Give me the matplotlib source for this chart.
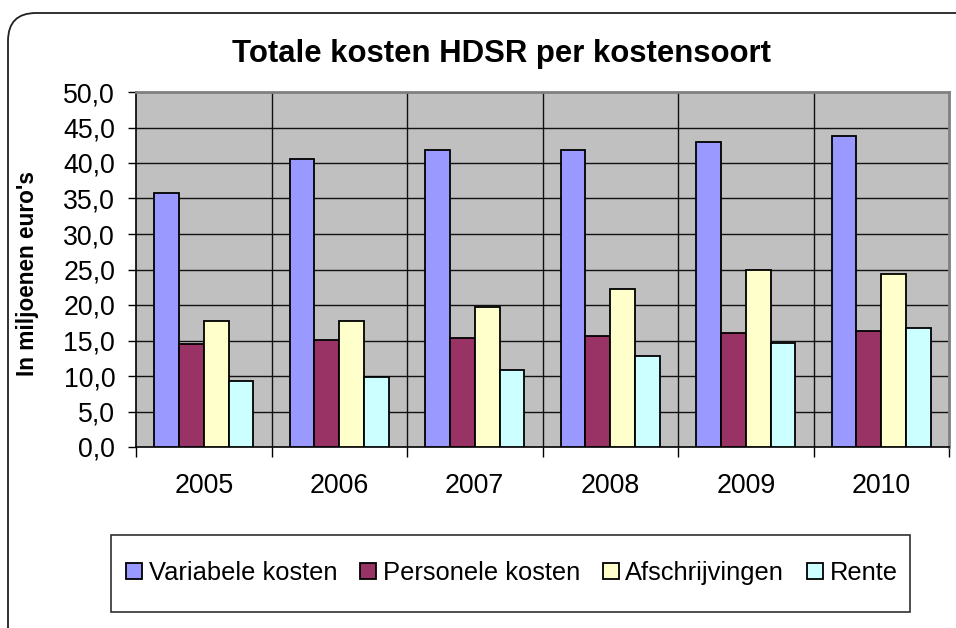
import matplotlib
matplotlib.use("Agg")
import matplotlib.pyplot as plt
from matplotlib.patches import FancyBboxPatch, Rectangle
from matplotlib.transforms import IdentityTransform
import numpy as np

plt.rcParams['font.family'] = ['Liberation Sans', 'DejaVu Sans']

# data (miljoenen euro's)
jaren = ['2005', '2006', '2007', '2008', '2009', '2010']
series = ['Variabele kosten', 'Personele kosten', 'Afschrijvingen', 'Rente']
variabele = [35.8, 40.5, 41.9, 41.9, 43.0, 43.8]
personele = [14.5, 15.1, 15.3, 15.6, 16.1, 16.4]
afschrijvingen = [17.8, 17.8, 19.7, 22.2, 24.9, 24.4]
rente = [9.3, 9.8, 10.9, 12.8, 14.7, 16.7]
kleuren = ['#9999FF', '#993366', '#FFFFCC', '#CCFFFF']

W, H = 956, 628
fig = plt.figure(figsize=(W / 100, H / 100), dpi=100)
fig.patch.set_facecolor('white')

# rounded chart border (pixel coordinates)
border = FancyBboxPatch((8, -40), 1000, 615 + 40, boxstyle='round,pad=0,rounding_size=28',
                        transform=IdentityTransform(), facecolor='none',
                        edgecolor='#202020', linewidth=1.3, clip_on=False)
fig.patches.append(border)

ax = fig.add_axes([136 / W, 1 - 447 / H, (949 - 136) / W, (447 - 92) / H])
ax.set_facecolor('#C0C0C0')

x = np.arange(len(jaren)) + 0.5
bw = 0.1835
for k, (vals, kleur) in enumerate(zip([variabele, personele, afschrijvingen, rente], kleuren)):
    ax.bar(x + (k - 1.5) * bw, vals, width=bw, color=kleur, edgecolor='black',
           linewidth=1.3, label=series[k], zorder=3)

ax.set_xlim(0, len(jaren))
ax.set_ylim(0, 50)
ax.set_yticks(np.arange(0, 51, 5))
ax.set_yticklabels([f"{v:.1f}".replace('.', ',') for v in np.arange(0, 51, 5)])
ax.set_xticks(np.arange(0, len(jaren) + 1))
ax.set_xticklabels([])
ax.set_xticks(x, minor=True)
ax.set_xticklabels(jaren, minor=True)
ax.tick_params(axis='x', which='major', length=7, width=1, color='black', direction='out')
ax.tick_params(axis='x', which='minor', length=0, pad=19, labelsize=19.3)
ax.tick_params(axis='y', length=6, width=1, pad=9, labelsize=19.3, direction='out')

for yv in np.arange(5, 50, 5):
    ax.axhline(yv, color='#111111', linewidth=1, zorder=1)
for xv in range(1, len(jaren)):
    ax.axvline(xv, color='#111111', linewidth=1, zorder=1)

ax.spines['left'].set_color('black')
ax.spines['bottom'].set_color('black')
ax.spines['left'].set_linewidth(1.2)
ax.spines['bottom'].set_linewidth(1.2)
for s in ['top', 'right']:
    ax.spines[s].set_color('#808080')
    ax.spines[s].set_linewidth(2)

fig.text(502 / W, 1 - 62 / H, 'Totale kosten HDSR per kostensoort', fontsize=22.4,
         fontweight='bold', ha='center', va='baseline')
fig.text(28 / W, 1 - 274 / H, "In miljoenen euro's", fontsize=16.3, fontweight='bold',
         rotation=90, ha='center', va='center')

# legend box drawn separately so its size matches the original
fig.patches.append(Rectangle((110.5, 628 - 611.5), 799, 77, transform=IdentityTransform(),
                             facecolor='white', edgecolor='#303030', linewidth=1.2))
leg = fig.legend(loc='center', bbox_to_anchor=(512 / W, 1 - 573 / H), ncol=4,
                 fontsize=18.4, frameon=False, handlelength=0.63,
                 handleheight=0.63, handletextpad=0.25, columnspacing=0.9,
                 borderpad=0, borderaxespad=0)

fig.savefig('out.png', dpi=100)
